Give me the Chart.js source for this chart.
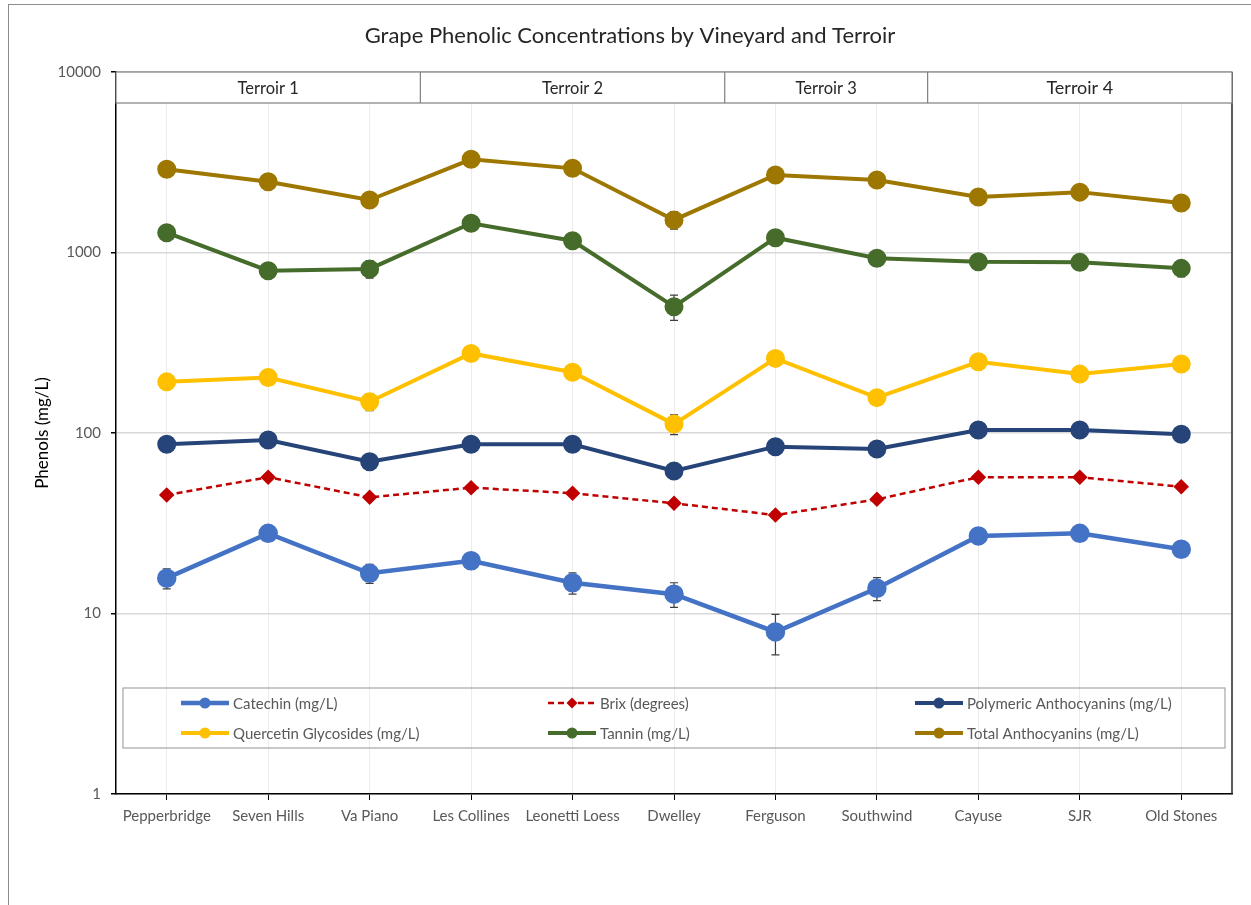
<!DOCTYPE html>
<html>
<head>
<meta charset="utf-8">
<script src="https://cdn.jsdelivr.net/npm/chart.js@4.4.1/dist/chart.umd.min.js"></script>
<style>
  html, body { margin: 0; padding: 0; background: #fff; }
  #wrap { width: 1251px; height: 905px; }
</style>
</head>
<body>
<div id="wrap"><canvas id="chart" width="1251" height="905"></canvas></div>
<script>
// data
const vineyards = ['Pepperbridge', 'Seven Hills', 'Va Piano', 'Les Collines', 'Leonetti Loess',
  'Dwelley', 'Ferguson', 'Southwind', 'Cayuse', 'SJR', 'Old Stones'];
const terroirs = ['Terroir 1', 'Terroir 2', 'Terroir 3', 'Terroir 4'];
const terroirSizes = [3, 3, 2, 3];
const yTicks = [1, 10, 100, 1000, 10000];

const catechin  = [15.7, 27.8, 16.7, 19.6, 14.8, 12.8, 7.9, 13.8, 26.9, 27.8, 22.7];
const brix      = [45.4, 56.9, 44.0, 49.8, 46.4, 40.8, 35.1, 42.9, 56.9, 56.9, 50.4];
const polymeric = [86.6, 91.4, 69.3, 86.6, 86.6, 61.6, 84, 81.5, 104, 104, 98.4];
const quercetin = [192, 203, 149, 276, 217, 112, 259, 157, 248, 212, 241];
const tannin    = [1288, 793, 811, 1452, 1162, 501, 1208, 929, 889, 882, 817];
const totalAnth = [2890, 2468, 1954, 3283, 2926, 1515, 2690, 2520, 2030, 2160, 1880];

// +/- error
const catechinErr  = [2, 1, 2, 2, 2, 2, 2, 2, 1, 1, 1.5];
const brixErr      = [1, 1, 1, 1, 1, 1, 1.5, 1, 1, 1, 1];
const polymericErr = [2, 2, 2, 2, 2, 2, 2, 2, 2, 2, 2];
const quercetinErr = [16, 8, 16, 8, 15, 14, 8, 15, 8, 8, 8];
const tanninErr    = [40, 75, 90, 40, 40, 80, 40, 65, 70, 70, 85];
const totalErr     = [90, 90, 170, 90, 90, 170, 90, 90, 90, 90, 180];

const chartTitle = 'Grape Phenolic Concentrations by Vineyard and Terroir';
const FONT = 'Lato, "Open Sans", sans-serif';

function series(label, data, err, color, opts) {
  return Object.assign({
    label: label,
    data: data,
    errors: err,
    borderColor: color,
    backgroundColor: color,
    pointBackgroundColor: color,
    pointBorderColor: color,
    borderWidth: 4,
    pointRadius: 7.5,
    pointHoverRadius: 7.5,
    pointStyle: 'circle',
    tension: 0
  }, opts || {});
}

const datasets = [
  series('Catechin (mg/L)', catechin, catechinErr, '#4472C4', { borderWidth: 4.5 }),
  series('Brix (degrees)', brix, brixErr, '#C00000', { borderWidth: 2.5, borderDash: [6, 4], pointStyle: 'rectRot', pointRadius: 6 }),
  series('Polymeric Anthocyanins (mg/L)', polymeric, polymericErr, '#264478'),
  series('Quercetin Glycosides (mg/L)', quercetin, quercetinErr, '#FFC000'),
  series('Tannin (mg/L)', tannin, tanninErr, '#466C2B'),
  series('Total Anthocyanins (mg/L)', totalAnth, totalErr, '#9E7700')
];

// error bars drawn under the markers
const errorBars = {
  id: 'errorBars',
  beforeDatasetsDraw(chart) {
    const ctx = chart.ctx, x = chart.scales.x, y = chart.scales.y;
    ctx.save();
    ctx.strokeStyle = '#404040';
    ctx.lineWidth = 1.2;
    chart.data.datasets.forEach(ds => {
      ds.data.forEach((v, i) => {
        const e = ds.errors[i];
        const px = x.getPixelForValue(i);
        const top = y.getPixelForValue(v + e);
        const bot = y.getPixelForValue(v - e);
        ctx.beginPath();
        ctx.moveTo(px, top); ctx.lineTo(px, bot);
        ctx.moveTo(px - 4, top); ctx.lineTo(px + 4, top);
        ctx.moveTo(px - 4, bot); ctx.lineTo(px + 4, bot);
        ctx.stroke();
      });
    });
    ctx.restore();
  }
};

// frame, title, right border, terroir header and the boxed legend
const decorations = {
  id: 'decorations',
  beforeDraw(chart) {
    const ctx = chart.ctx;
    ctx.save();
    ctx.fillStyle = '#fff';
    ctx.fillRect(0, 0, chart.width, chart.height);
    ctx.strokeStyle = '#8c8c8c';
    ctx.lineWidth = 1;
    ctx.strokeRect(8.5, 4.5, chart.width + 20, chart.height + 20);
    ctx.fillStyle = '#262626';
    ctx.font = '22px ' + FONT;
    ctx.textAlign = 'center';
    ctx.textBaseline = 'middle';
    ctx.fillText(chartTitle, 630, 36);
    ctx.restore();
  },
  afterDraw(chart) {
    const ctx = chart.ctx, x = chart.scales.x, a = chart.chartArea;
    ctx.save();

    // right border of plot
    ctx.strokeStyle = '#262626';
    ctx.lineWidth = 1.5;
    ctx.beginPath();
    ctx.moveTo(a.right, a.top); ctx.lineTo(a.right, a.bottom);
    ctx.stroke();

    // terroir header row
    const hTop = a.top, hH = 31;
    ctx.fillStyle = '#fff';
    ctx.fillRect(a.left, hTop, a.right - a.left, hH);
    ctx.strokeStyle = '#7f7f7f';
    ctx.lineWidth = 1.2;
    ctx.strokeRect(a.left, hTop, a.right - a.left, hH);
    let start = 0;
    terroirs.forEach((t, k) => {
      const end = start + terroirSizes[k];
      const x0 = start === 0 ? a.left : (x.getPixelForValue(start - 1) + x.getPixelForValue(start)) / 2;
      const x1 = end >= vineyards.length ? a.right : (x.getPixelForValue(end - 1) + x.getPixelForValue(end)) / 2;
      if (start > 0) {
        ctx.beginPath();
        ctx.moveTo(x0, hTop); ctx.lineTo(x0, hTop + hH);
        ctx.stroke();
      }
      ctx.fillStyle = '#262626';
      ctx.font = (k === 3 ? '18px ' : '16.5px ') + FONT;
      ctx.textAlign = 'center';
      ctx.textBaseline = 'middle';
      ctx.fillText(t, (x0 + x1) / 2, hTop + hH / 2 + 1);
      start = end;
    });

    // legend box inside plot
    const lx = a.left + 7, ly = 688, lw = a.right - a.left - 14, lh = 60;
    ctx.strokeStyle = '#a6a6a6';
    ctx.lineWidth = 1.2;
    ctx.strokeRect(lx, ly, lw, lh);
    const cols = [181, 548, 915], rows = [703, 733];
    chart.data.datasets.forEach((ds, i) => {
      const cx = cols[i % 3], cy = rows[Math.floor(i / 3)];
      ctx.strokeStyle = ds.borderColor;
      ctx.lineWidth = ds.borderWidth;
      ctx.setLineDash(ds.borderDash || []);
      ctx.beginPath();
      ctx.moveTo(cx, cy); ctx.lineTo(cx + 48, cy);
      ctx.stroke();
      ctx.setLineDash([]);
      ctx.fillStyle = ds.borderColor;
      ctx.beginPath();
      if (ds.pointStyle === 'rectRot') {
        ctx.moveTo(cx + 24, cy - 5.5); ctx.lineTo(cx + 29.5, cy);
        ctx.lineTo(cx + 24, cy + 5.5); ctx.lineTo(cx + 18.5, cy);
        ctx.closePath();
      } else {
        ctx.arc(cx + 24, cy, 5.5, 0, Math.PI * 2);
      }
      ctx.fill();
      ctx.fillStyle = '#595959';
      ctx.font = '15px ' + FONT;
      ctx.textAlign = 'left';
      ctx.textBaseline = 'middle';
      ctx.fillText(ds.label, cx + 52, cy + 1);
    });
    ctx.restore();
  }
};

new Chart(document.getElementById('chart'), {
  type: 'line',
  data: { labels: vineyards, datasets: datasets },
  plugins: [errorBars, decorations],
  options: {
    responsive: false,
    animation: false,
    layout: { padding: { left: 0, right: 19, top: 72, bottom: 71 } },
    plugins: {
      legend: { display: false },
      tooltip: { enabled: false },
      title: { display: false }
    },
    scales: {
      x: {
        offset: true,
        grid: { display: true, offset: false, color: '#ececec', tickColor: '#000', tickLength: 6 },
        border: { display: true, color: '#000', width: 1.5 },
        ticks: { color: '#595959', font: { family: FONT, size: 15 }, padding: 7, maxRotation: 0, autoSkip: false },
        afterFit(scale) { scale.height = 40; }
      },
      y: {
        type: 'logarithmic',
        min: 1,
        max: 10000,
        afterBuildTicks(scale) { scale.ticks = yTicks.map(v => ({ value: v, major: true })); },
        grid: { color: '#d9d9d9', lineWidth: 1.5, tickColor: '#000', tickLength: 5 },
        border: { display: true, color: '#000', width: 1.5 },
        ticks: { color: '#595959', font: { family: FONT, size: 15 }, padding: 10, callback: v => String(v) },
        title: {
          display: true,
          text: 'Phenols (mg/L)',
          color: '#000',
          font: { family: FONT, size: 17 },
          padding: { top: 32, bottom: 0 }
        },
        afterFit(scale) { scale.width = 116; }
      }
    }
  }
});
</script>
</body>
</html>
